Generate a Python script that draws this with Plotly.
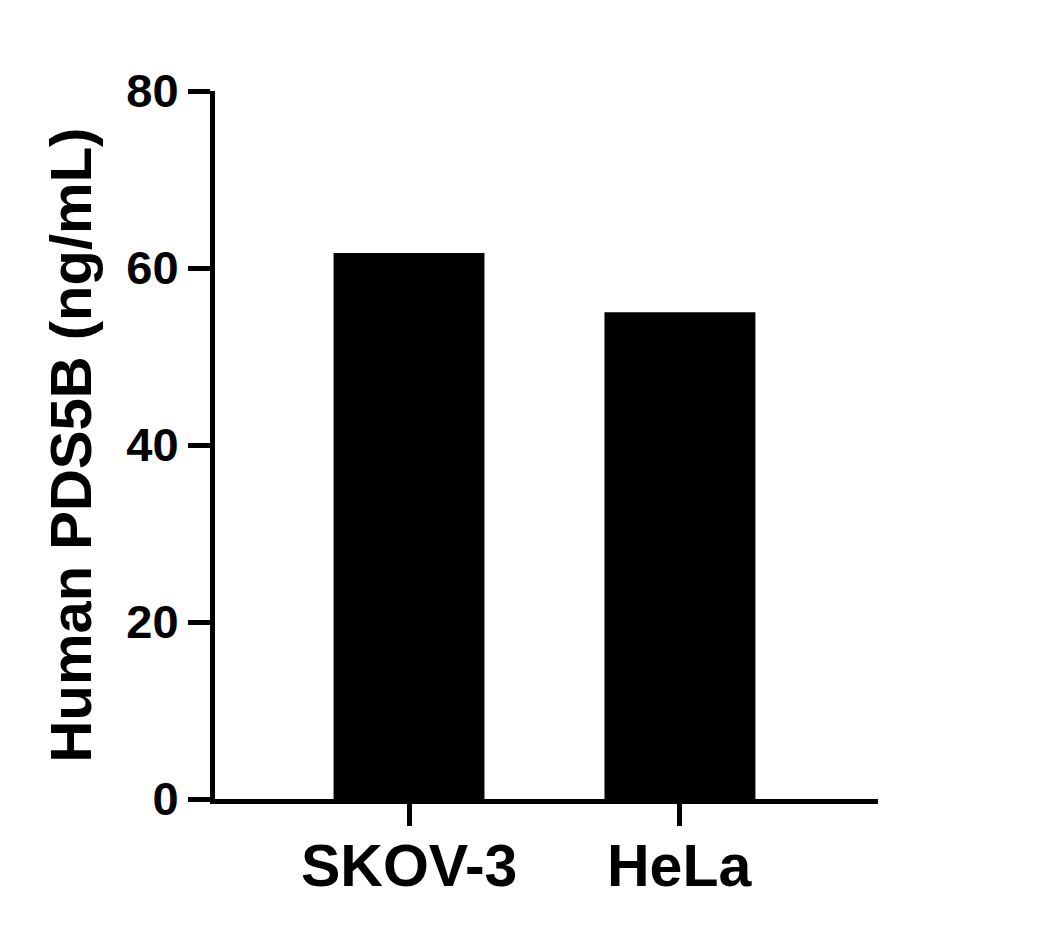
import plotly.graph_objects as go

cell_lines = ["SKOV-3", "HeLa"]
pds5b_ng_ml = [61.7, 55.0]
y_ticks = [0, 20, 40, 60, 80]

fig = go.Figure(
    go.Bar(
        x=[0, 1],
        y=pds5b_ng_ml,
        width=0.557,
        marker=dict(color="black", line_width=0),
    )
)

font = "Liberation Sans, Arial, sans-serif"

fig.update_layout(
    width=1057,
    height=934,
    margin=dict(l=207, r=187, t=83, b=143),
    plot_bgcolor="white",
    paper_bgcolor="white",
    showlegend=False,
    font=dict(family=font, color="black"),
)
fig.update_xaxes(
    range=[-0.716, 1.731],
    tickvals=[0, 1],
    showticklabels=False,
    showline=True,
    linecolor="black",
    linewidth=5,
    ticks="outside",
    ticklen=22,
    tickwidth=5,
    tickcolor="black",
    showgrid=False,
    zeroline=False,
)
fig.update_yaxes(
    range=[0, 80],
    tickvals=y_ticks,
    ticktext=[f"<b>{v}</b>" for v in y_ticks],
    showline=True,
    linecolor="black",
    linewidth=5,
    ticks="outside",
    ticklen=22,
    tickwidth=5,
    tickcolor="black",
    showgrid=False,
    zeroline=False,
    tickfont=dict(size=47, family=font),
    ticklabelstandoff=0,
    title=dict(text="<b>Human PDS5B (ng/mL)</b>", font=dict(size=58, family=font), standoff=18),
)

# category labels as annotations so they can sit closer to the ticks
for i, name in enumerate(cell_lines):
    fig.add_annotation(
        x=i, y=0, xref="x", yref="y",
        text=f"<b>{name}</b>",
        showarrow=False,
        yanchor="top",
        yshift=-32,
        font=dict(size=59, family=font, color="black"),
    )

fig.write_html("out.html")
